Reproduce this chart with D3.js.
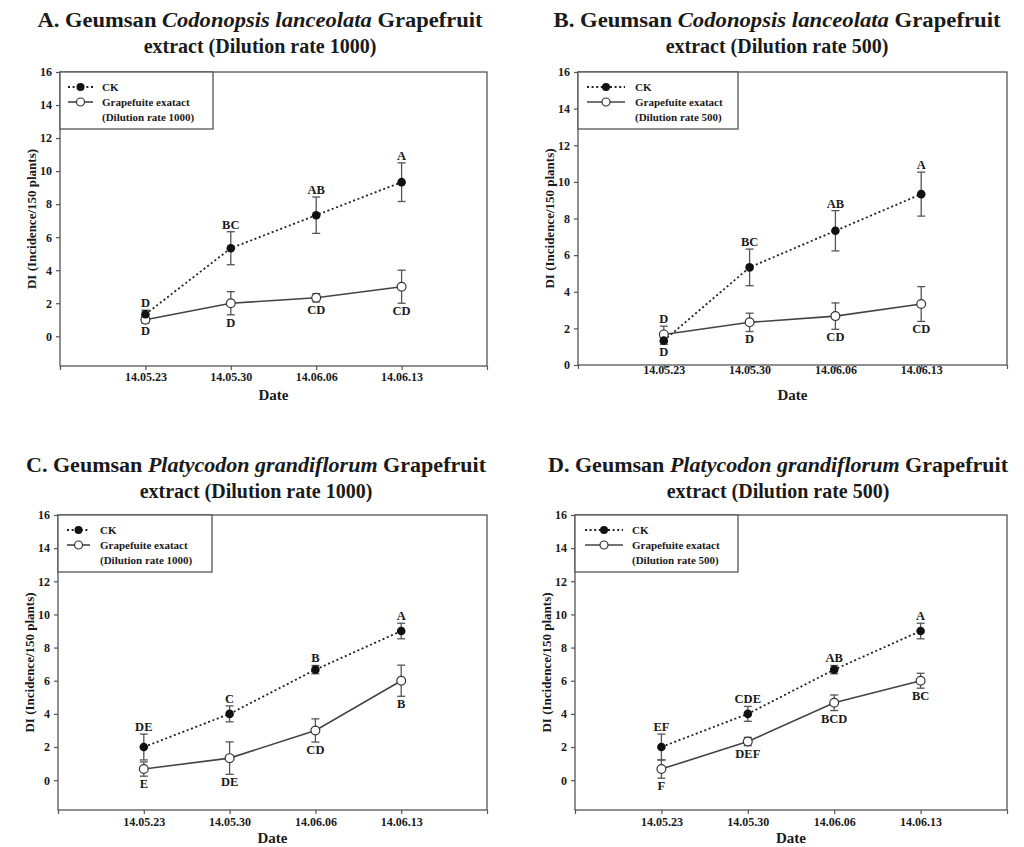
<!DOCTYPE html>
<html><head><meta charset="utf-8">
<script src="https://cdn.jsdelivr.net/npm/d3@7"></script>
<style>
body{margin:0;background:#fff;}
svg{display:block;}
text{font-family:"Liberation Serif","Times New Roman",serif;font-weight:bold;fill:#1a1a1a;}
</style></head>
<body>
<svg id="chart" width="1024" height="847"></svg>
<script>
// ---- data ----
const dates = ["14.05.23","14.05.30","14.06.06","14.06.13"];
const yTicks = [0,2,4,6,8,10,12,14,16];
const seriesNames = ["CK","Grapefuite exatact"];

// Panel A
const ckA = [1.33,5.33,7.33,9.33];
const ckAErr = [0.25,1.0,1.1,1.17];
const grapeA = [1.0,2.0,2.33,3.0];
const grapeAErr = [0.2,0.7,0.25,1.0];
const ckALetters = ["D","BC","AB","A"];
const grapeALetters = ["D","D","CD","CD"];

// Panel B
const ckB = [1.33,5.33,7.33,9.33];
const ckBErr = [0.2,1.0,1.1,1.2];
const grapeB = [1.67,2.33,2.67,3.33];
const grapeBErr = [0.45,0.5,0.72,0.95];
const ckBLetters = ["D","BC","AB","A"];
const grapeBLetters = ["D","D","CD","CD"];
const ckBAbove = [false,true,true,true];

// Panel C
const ckC = [2.0,4.0,6.67,9.0];
const ckCErr = [0.78,0.48,0.25,0.47];
const grapeC = [0.67,1.33,3.0,6.0];
const grapeCErr = [0.43,0.98,0.7,0.94];
const ckCLetters = ["DE","C","B","A"];
const grapeCLetters = ["E","DE","CD","B"];

// Panel D
const ckD = [2.0,4.0,6.67,9.0];
const ckDErr = [0.78,0.45,0.25,0.47];
const grapeD = [0.67,2.33,4.67,6.0];
const grapeDErr = [0.55,0.25,0.47,0.45];
const ckDLetters = ["EF","CDE","AB","A"];
const grapeDLetters = ["F","DEF","BCD","BC"];

const panels = [
  {pre:"A. Geumsan ", ital:"Codonopsis lanceolata", rate:"1000", cx:260, ty:27, tl:445,
   left:60, right:487, top:72, bottom:366, yMin:-1.8, xLab:381,
   ck:ckA, ckErr:ckAErr, gr:grapeA, grErr:grapeAErr, ckL:ckALetters, grL:grapeALetters, ckAbove:[true,true,true,true],
   lw:153, l0:8, l1:33, lt:42},
  {pre:"B. Geumsan ", ital:"Codonopsis lanceolata", rate:"500", cx:777, ty:27, tl:447,
   left:578, right:1007, top:72, bottom:365, yMin:0, xLab:374,
   ck:ckB, ckErr:ckBErr, gr:grapeB, grErr:grapeBErr, ckL:ckBLetters, grL:grapeBLetters, ckAbove:ckBAbove,
   lw:160, l0:9, l1:47, lt:57},
  {pre:"C. Geumsan ", ital:"Platycodon grandiflorum", rate:"1000", cx:256, ty:472, tl:460,
   left:58, right:487, top:515, bottom:810, yMin:-1.8, xLab:826,
   ck:ckC, ckErr:ckCErr, gr:grapeC, grErr:grapeCErr, ckL:ckCLetters, grL:grapeCLetters, ckAbove:[true,true,true,true],
   lw:154, l0:9, l1:32, lt:42},
  {pre:"D. Geumsan ", ital:"Platycodon grandiflorum", rate:"500", cx:778, ty:472, tl:460,
   left:575, right:1007, top:515, bottom:810, yMin:-1.8, xLab:826,
   ck:ckD, ckErr:ckDErr, gr:grapeD, grErr:grapeDErr, ckL:ckDLetters, grL:grapeDLetters, ckAbove:[true,true,true,true],
   lw:163, l0:10, l1:48, lt:57}
];

const svg = d3.select("#chart");
const axisCol = "#555";

panels.forEach(p => {
  const g = svg.append("g");
  // title
  const t1 = g.append("text").attr("x", p.cx - p.tl/2).attr("y", p.ty).style("font-size","20px")
    .attr("textLength", p.tl).attr("lengthAdjust","spacingAndGlyphs");
  t1.append("tspan").text(p.pre);
  t1.append("tspan").style("font-style","italic").text(p.ital);
  t1.append("tspan").text(" Grapefruit");
  g.append("text").attr("x", p.cx).attr("y", p.ty+26).attr("text-anchor","middle").style("font-size","20px")
    .text("extract (Dilution rate " + p.rate + ")");

  const x = d3.scaleLinear().domain([0, dates.length+1]).range([p.left, p.right]);
  const y = d3.scaleLinear().domain([p.yMin, 16]).range([p.bottom, p.top]);

  // frame
  g.append("rect").attr("x", p.left).attr("y", p.top).attr("width", p.right-p.left).attr("height", p.bottom-p.top)
    .attr("fill","none").attr("stroke", axisCol).attr("stroke-width",1.3);

  // y axis
  const ya = g.append("g").attr("transform",`translate(${p.left},0)`)
    .call(d3.axisLeft(y).tickValues(yTicks).tickSize(4).tickPadding(4));
  ya.select(".domain").remove();
  ya.selectAll("line").attr("stroke", axisCol).attr("stroke-width",1.2);
  ya.selectAll("text").style("font-size","12px").style("font-family","Liberation Serif").style("font-weight","bold").attr("fill","#1a1a1a");

  // x axis
  const xa = g.append("g").attr("transform",`translate(0,${p.bottom})`)
    .call(d3.axisBottom(x).tickValues(d3.range(0, dates.length+2)).tickSize(4)
      .tickFormat(i => (i>=1 && i<=dates.length) ? dates[i-1] : ""));
  xa.select(".domain").remove();
  xa.selectAll("line").attr("stroke", axisCol).attr("stroke-width",1.2);
  xa.selectAll("text").attr("y", null).attr("dy", null)
    .attr("transform", `translate(0,${p.xLab - p.bottom})`)
    .style("font-size","12px").style("font-family","Liberation Serif").style("font-weight","bold").attr("fill","#1a1a1a");

  // axis titles
  g.append("text").attr("x",(p.left+p.right)/2).attr("y", p.ty>400 ? 843 : 400).attr("text-anchor","middle")
    .style("font-size","15px").text("Date");
  g.append("text").attr("transform",`translate(${p.left-24},${(p.top+p.bottom)/2}) rotate(-90)`)
    .attr("text-anchor","middle").style("font-size","13px").text("DI (Incidence/150 plants)");

  const idx = d3.range(dates.length);
  const line = d3.line().x(i => x(i+1));

  // lines
  g.append("path").datum(idx).attr("d", line.y(i => y(p.ck[i])))
    .attr("fill","none").attr("stroke","#222").attr("stroke-width",1.8).attr("stroke-dasharray","2,2.6");
  g.append("path").datum(idx).attr("d", line.y(i => y(p.gr[i])))
    .attr("fill","none").attr("stroke","#444").attr("stroke-width",1.6);

  // error bars
  const drawErr = (vals, errs) => {
    idx.forEach(i => {
      const cxp = x(i+1), lo = y(vals[i]-errs[i]), hi = y(vals[i]+errs[i]);
      g.append("line").attr("x1",cxp).attr("x2",cxp).attr("y1",lo).attr("y2",hi).attr("stroke","#555").attr("stroke-width",1.3);
      [lo,hi].forEach(yy => g.append("line").attr("x1",cxp-4).attr("x2",cxp+4).attr("y1",yy).attr("y2",yy).attr("stroke","#555").attr("stroke-width",1.3));
    });
  };
  drawErr(p.ck, p.ckErr);
  drawErr(p.gr, p.grErr);

  // markers
  g.selectAll(null).data(idx).join("circle").attr("cx", i => x(i+1)).attr("cy", i => y(p.gr[i])).attr("r",4.4)
    .attr("fill","#fff").attr("stroke","#333").attr("stroke-width",1.2);
  g.selectAll(null).data(idx).join("circle").attr("cx", i => x(i+1)).attr("cy", i => y(p.ck[i])).attr("r",4.3)
    .attr("fill","#111");

  // letters
  idx.forEach(i => {
    const ckUp = p.ckAbove[i];
    const ckY = ckUp ? y(p.ck[i]+p.ckErr[i]) - 3 : y(p.ck[i]-p.ckErr[i]) + 12;
    const grY = ckUp ? y(p.gr[i]-p.grErr[i]) + 12 : y(p.gr[i]+p.grErr[i]) - 3;
    g.append("text").attr("x", x(i+1)).attr("y", ckY).attr("text-anchor","middle").style("font-size","12.5px").text(p.ckL[i]);
    g.append("text").attr("x", x(i+1)).attr("y", grY).attr("text-anchor","middle").style("font-size","12.5px").text(p.grL[i]);
  });

  // legend
  const lg = g.append("g").attr("transform",`translate(${p.left},${p.top})`);
  lg.append("rect").attr("x",0).attr("y",0).attr("width",p.lw).attr("height",57)
    .attr("fill","#fff").attr("stroke",axisCol).attr("stroke-width",1.3);
  const lm = (p.l0+p.l1)/2;
  lg.append("line").attr("x1",p.l0).attr("x2",p.l1).attr("y1",15).attr("y2",15)
    .attr("stroke","#222").attr("stroke-width",1.8).attr("stroke-dasharray","2,2.6");
  lg.append("circle").attr("cx",lm).attr("cy",15).attr("r",4).attr("fill","#111");
  lg.append("line").attr("x1",p.l0).attr("x2",p.l1).attr("y1",30).attr("y2",30)
    .attr("stroke","#444").attr("stroke-width",1.6);
  lg.append("circle").attr("cx",lm).attr("cy",30).attr("r",4).attr("fill","#fff").attr("stroke","#333").attr("stroke-width",1.2);
  lg.append("text").attr("x",p.lt).attr("y",19).style("font-size","11px").text(seriesNames[0]);
  lg.append("text").attr("x",p.lt).attr("y",34).style("font-size","11px").text(seriesNames[1]);
  lg.append("text").attr("x",p.lt).attr("y",49).style("font-size","11px").text("(Dilution rate " + p.rate + ")");
});
</script>
</body></html>
